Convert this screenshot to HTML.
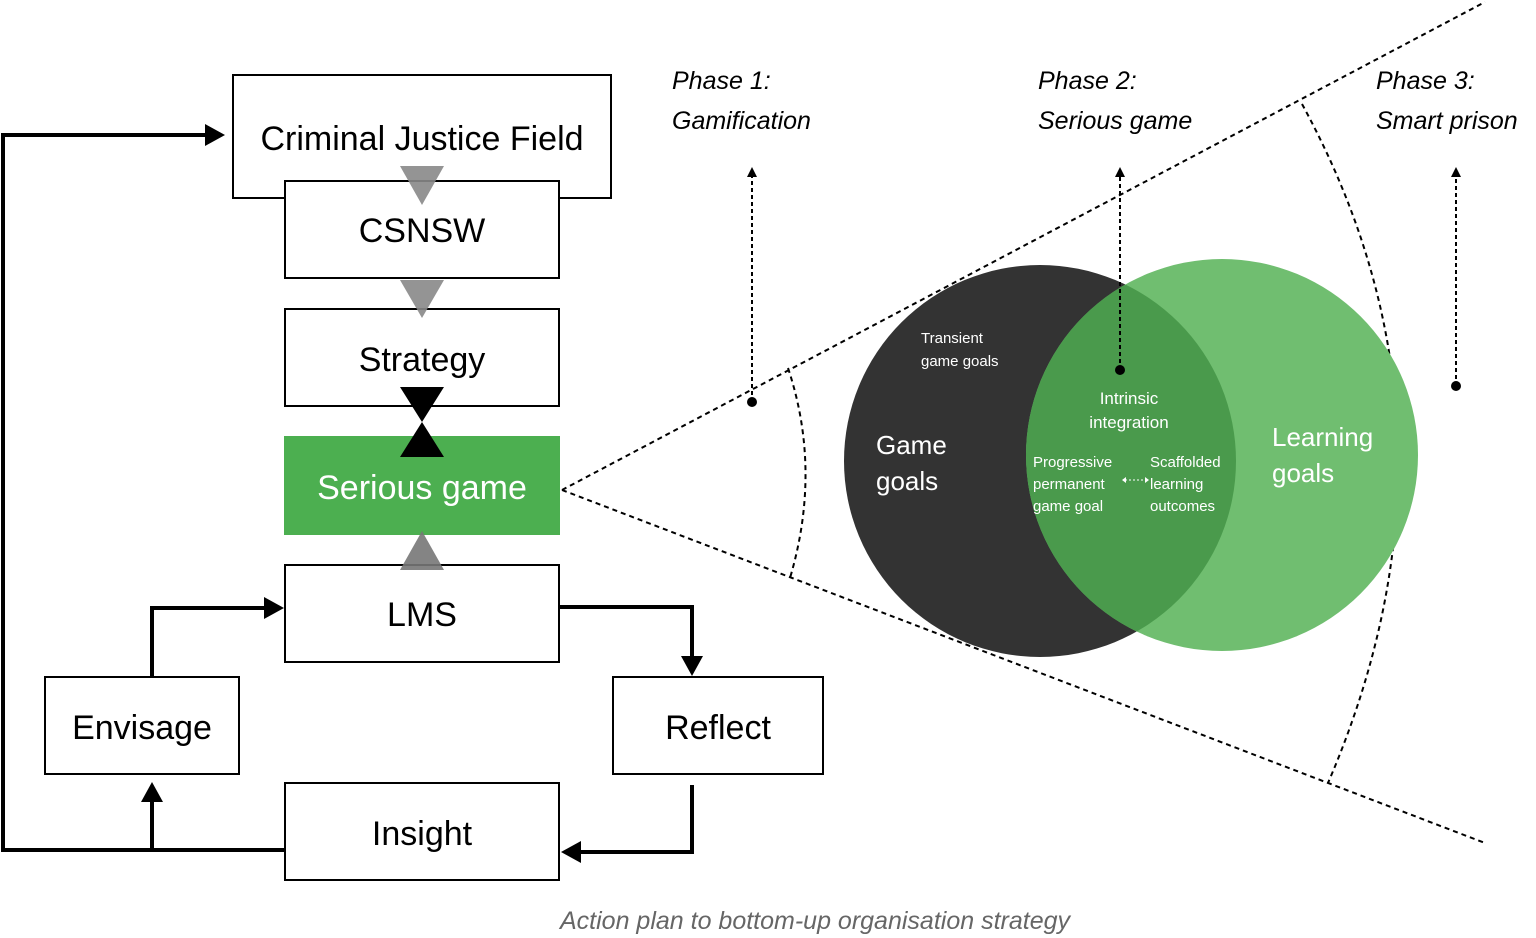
<!DOCTYPE html>
<html><head><meta charset="utf-8"><style>
html,body{margin:0;padding:0;background:#fff;}
svg{display:block;font-family:"Liberation Sans",sans-serif;}
</style></head><body>
<svg width="1536" height="938" viewBox="0 0 1536 938" xmlns="http://www.w3.org/2000/svg">
<defs>
<clipPath id="cg"><circle cx="1222" cy="455" r="196"/></clipPath>
<marker id="ah" markerWidth="10" markerHeight="10" refX="5" refY="5" orient="auto" markerUnits="userSpaceOnUse"><path d="M0,0 L10,5 L0,10 Z" fill="#000"/></marker>
</defs>
<!-- dashed wedge -->
<g fill="none" stroke="#000" stroke-width="2" stroke-dasharray="5,4">
<path d="M562,490 L1485,2"/>
<path d="M562,490 L1485,843"/>
<path d="M788,368 Q822,470 790,578"/>
<path d="M1302,104 Q1480,430 1328,783"/>
</g>
<!-- venn -->
<circle cx="1040" cy="461" r="196" fill="#333333"/>
<circle cx="1222" cy="455" r="196" fill="#70be70"/>
<circle cx="1040" cy="461" r="196" fill="#4a9a4c" clip-path="url(#cg)"/>
<g fill="#fff">
<text x="921" y="343" font-size="15">Transient</text>
<text x="921" y="366" font-size="15">game goals</text>
<text x="876" y="454" font-size="26">Game</text>
<text x="876" y="490" font-size="26">goals</text>
<text x="1272" y="446" font-size="26">Learning</text>
<text x="1272" y="482" font-size="26">goals</text>
<text x="1129" y="404" font-size="17" text-anchor="middle">Intrinsic</text>
<text x="1129" y="428" font-size="17" text-anchor="middle">integration</text>
<text x="1033" y="467" font-size="15">Progressive</text>
<text x="1033" y="489" font-size="15">permanent</text>
<text x="1033" y="511" font-size="15">game goal</text>
<text x="1150" y="467" font-size="15">Scaffolded</text>
<text x="1150" y="489" font-size="15">learning</text>
<text x="1150" y="511" font-size="15">outcomes</text>
</g>
<path d="M1125,480 L1146,480" stroke="#fff" stroke-width="1" stroke-dasharray="2,2"/>
<path d="M1122,480 l4,-3 v6z M1149,480 l-4,-3 v6z" fill="#fff"/>
<!-- phase arrows -->
<g stroke="#000" stroke-width="2" stroke-dasharray="4,3">
<path d="M752,402 V176"/><path d="M1120,370 V176"/><path d="M1456,386 V176"/>
</g>
<g fill="#000">
<circle cx="752" cy="402" r="5"/><circle cx="1120" cy="370" r="5"/><circle cx="1456" cy="386" r="5"/>
<path d="M747,177 l5,-10 l5,10z M1115,177 l5,-10 l5,10z M1451,177 l5,-10 l5,10z"/>
</g>
<g font-size="25" font-style="italic" fill="#000">
<text x="672" y="89">Phase 1:</text><text x="672" y="129">Gamification</text>
<text x="1038" y="89">Phase 2:</text><text x="1038" y="129">Serious game</text>
<text x="1376" y="89">Phase 3:</text><text x="1376" y="129">Smart prison</text>
</g>
<!-- boxes -->
<g fill="#fff" stroke="#000" stroke-width="2">
<rect x="233" y="75" width="378" height="123"/>
<rect x="285" y="181" width="274" height="97"/>
<rect x="285" y="309" width="274" height="97"/>
<rect x="285" y="565" width="274" height="97"/>
<rect x="45" y="677" width="194" height="97"/>
<rect x="613" y="677" width="210" height="97"/>
<rect x="285" y="783" width="274" height="97"/>
</g>
<rect x="284" y="436" width="276" height="99" fill="#4caf50"/>
<g font-size="34" text-anchor="middle" fill="#000">
<text x="422" y="150">Criminal Justice Field</text>
<text x="422" y="242">CSNSW</text>
<text x="422" y="371">Strategy</text>
<text x="422" y="626">LMS</text>
<text x="142" y="739">Envisage</text>
<text x="718" y="739">Reflect</text>
<text x="422" y="845">Insight</text>
<text x="422" y="499" fill="#fff">Serious game</text>
</g>
<!-- triangles -->
<path d="M400,166 L444,166 L422,205Z" fill="#888" opacity="0.9"/>
<path d="M400,280 L444,280 L422,318Z" fill="#888" opacity="0.9"/>
<path d="M400,387 L444,387 L422,422 L444,457 L400,457 L422,422Z" fill="#000"/>
<path d="M400,570 L444,570 L422,531Z" fill="#777" opacity="0.9"/>
<!-- connectors -->
<g fill="none" stroke="#000" stroke-width="4">
<path d="M285,850 H3 V135 H212"/>
<path d="M152,850 V797"/>
<path d="M152,677 V608 H270"/>
<path d="M559,607 H692 V662"/>
<path d="M692,785 V852 H577"/>
</g>
<g fill="#000">
<path d="M205,124 L225,135 L205,146Z"/>
<path d="M141,802 L152,782 L163,802Z"/>
<path d="M264,597 L284,608 L264,619Z"/>
<path d="M681,656 L692,676 L703,656Z"/>
<path d="M581,841 L561,852 L581,863Z"/>
</g>
<text x="815" y="929" font-size="25" font-style="italic" fill="#666" text-anchor="middle">Action plan to bottom-up organisation strategy</text>
</svg>
</body></html>
